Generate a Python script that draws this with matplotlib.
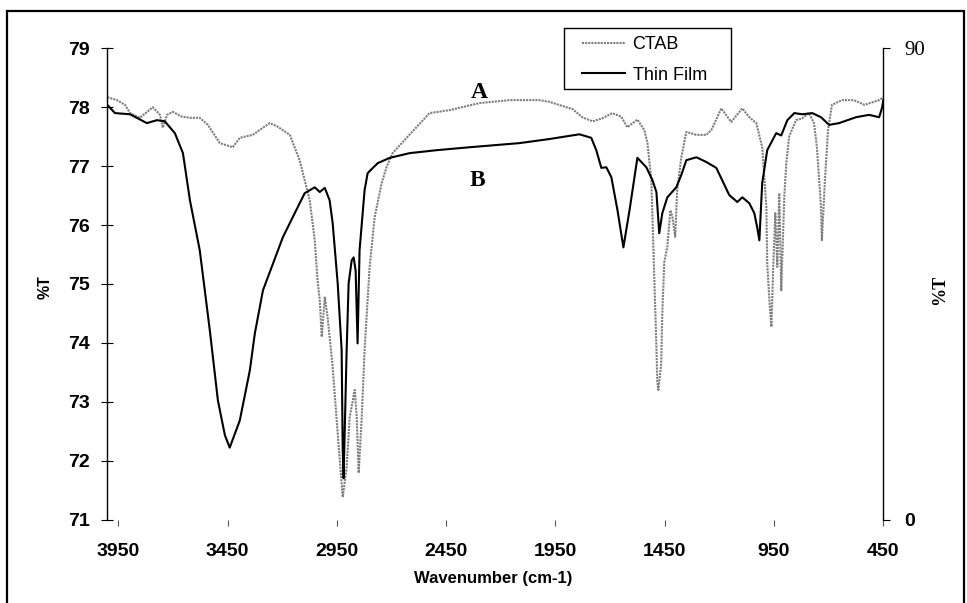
import matplotlib
matplotlib.use("Agg")
import matplotlib.pyplot as plt
from matplotlib.patches import Rectangle

# wavenumber (cm-1) / %T
ctab_wn = [4000, 3956, 3919, 3896, 3851, 3792, 3759, 3746, 3727, 3700, 3659, 3622, 3577, 3540,
           3485, 3426, 3394, 3335, 3257, 3225, 3165, 3120, 3097, 3074, 3051, 3038, 3028, 3019,
           3005, 2992, 2969, 2946, 2923, 2905, 2891, 2868, 2859, 2850, 2836, 2823, 2800, 2777,
           2745, 2722, 2695, 2526, 2434, 2297, 2160, 2023, 1977, 1900, 1872, 1827, 1781, 1736,
           1690, 1649, 1621, 1575, 1543, 1529, 1511, 1502, 1488, 1484, 1479, 1466, 1461, 1452,
           1438, 1424, 1415, 1402, 1393, 1374, 1351, 1305, 1260, 1237, 1191, 1146, 1095, 1063,
           1031, 1004, 985, 981, 972, 962, 953, 944, 935, 926, 917, 903, 894, 881, 849, 821,
           790, 767, 754, 735, 731, 717, 703, 685, 639, 584, 536, 469, 450]
ctab_t = [78.17, 78.12, 78.04, 77.90, 77.82, 78.00, 77.87, 77.65, 77.87, 77.92, 77.84, 77.82,
          77.82, 77.70, 77.39, 77.32, 77.48, 77.53, 77.73, 77.68, 77.53, 77.10, 76.76, 76.42,
          75.74, 75.06, 74.72, 74.10, 74.77, 74.43, 73.59, 72.46, 71.38, 71.89, 72.74, 73.20,
          72.74, 71.79, 72.74, 73.88, 75.28, 76.13, 76.71, 76.99, 77.22, 77.90, 77.95, 78.07,
          78.12, 78.12, 78.09, 78.00, 77.97, 77.83, 77.76, 77.81, 77.90, 77.84, 77.66, 77.79,
          77.61, 77.39, 76.76, 75.63, 73.93, 73.36, 73.20, 73.65, 74.50, 75.37, 75.63, 76.25,
          76.14, 75.80, 76.59, 77.15, 77.58, 77.53, 77.53, 77.61, 77.98, 77.75, 77.98, 77.83,
          77.73, 77.32, 76.31, 75.35, 74.78, 74.27, 75.35, 76.20, 75.29, 76.54, 74.89, 76.47,
          77.04, 77.50, 77.78, 77.81, 77.90, 77.73, 77.33, 76.31, 75.74, 76.76, 77.61, 78.04,
          78.12, 78.12, 78.04, 78.12, 78.17]

film_wn = [4000, 3965, 3896, 3819, 3773, 3737, 3691, 3654, 3622, 3577, 3531, 3494, 3462, 3440,
           3394, 3348, 3325, 3288, 3197, 3152, 3097, 3051, 3028, 3005, 2983, 2969, 2946, 2928,
           2923, 2919, 2905, 2896, 2882, 2873, 2864, 2855, 2846, 2823, 2809, 2763, 2708, 2617,
           2494, 2343, 2115, 1977, 1840, 1786, 1763, 1740, 1717, 1694, 1666, 1639, 1611, 1575,
           1534, 1506, 1488, 1475, 1461, 1438, 1397, 1374, 1351, 1305, 1260, 1214, 1187, 1155,
           1118, 1095, 1063, 1040, 1027, 1017, 1004, 981, 940, 917, 889, 857, 821, 775, 735,
           698, 652, 575, 515, 469, 455, 450]
film_t = [78.04, 77.90, 77.88, 77.73, 77.78, 77.76, 77.56, 77.22, 76.42, 75.57, 74.21, 73.02,
          72.43, 72.22, 72.68, 73.53, 74.16, 74.89, 75.79, 76.13, 76.54, 76.64, 76.56, 76.63,
          76.42, 76.03, 75.01, 73.88, 72.18, 71.70, 73.88, 75.01, 75.40, 75.45, 75.23, 73.99,
          75.57, 76.59, 76.88, 77.05, 77.14, 77.22, 77.27, 77.32, 77.39, 77.46, 77.54, 77.48,
          77.27, 76.97, 76.98, 76.81, 76.25, 75.62, 76.25, 77.14, 76.98, 76.76, 76.56, 75.86,
          76.20, 76.47, 76.64, 76.85, 77.10, 77.15, 77.07, 76.97, 76.76, 76.51, 76.39, 76.47,
          76.37, 76.20, 75.96, 75.74, 76.71, 77.27, 77.56, 77.52, 77.78, 77.90, 77.88, 77.90,
          77.83, 77.70, 77.73, 77.83, 77.87, 77.83, 78.00, 78.12]

x_ticks = [3950, 3450, 2950, 2450, 1950, 1450, 950, 450]
y_ticks = [71, 72, 73, 74, 75, 76, 77, 78, 79]
y2_ticks = [0, 90]

SANS = "Liberation Sans"
SERIF = "Liberation Serif"
W, H = 967, 603

fig = plt.figure(figsize=(W / 100, H / 100), dpi=100)
ax = fig.add_axes([107.3 / W, 1 - 519.5 / H, (883.3 - 107.3) / W, (519.5 - 48.3) / H])

ax.plot(ctab_wn, ctab_t, color="#7d7d7d", lw=1.5, ls=(0, (1, 0.5)), label="CTAB")
ax.plot(film_wn, film_t, color="black", lw=1.5, label="Thin Film")

ax.set_xlim(4000, 450)
ax.set_ylim(71, 79)
ax.set_xticks(x_ticks, [str(x) for x in x_ticks])
ax.set_yticks(y_ticks, [str(y) for y in y_ticks])
for side in ["top", "bottom", "right"]:
    ax.spines[side].set_visible(False)
ax.spines["left"].set_linewidth(1)
ax.tick_params(axis="x", direction="out", length=4, width=0.8, color="#555555", pad=13)
ax.tick_params(axis="y", direction="inout", length=9, width=0.8, pad=8)
for lab in ax.get_xticklabels() + ax.get_yticklabels():
    lab.set_fontfamily(SANS)
    lab.set_fontweight("bold")
    lab.set_fontsize(14)

ax2 = ax.twinx()
ax2.set_ylim(0, 90)
ax2.set_yticks(y2_ticks, [str(y) for y in y2_ticks])
for side in ["top", "bottom", "left"]:
    ax2.spines[side].set_visible(False)
ax2.spines["right"].set_linewidth(1)
ax2.tick_params(axis="y", direction="out", length=5, width=0.8, pad=10)
lab0, lab90 = ax2.get_yticklabels()
lab0.set_fontfamily(SANS)
lab0.set_fontweight("bold")
lab0.set_fontsize(14)
lab90.set_fontfamily(SERIF)
lab90.set_fontsize(15)

ax.text(2300, 78.25, "A", family=SERIF, weight="bold", fontsize=17, ha="center", va="center")
ax.text(2305, 76.75, "B", family=SERIF, weight="bold", fontsize=17, ha="center", va="center")

# legend entries without frame, box drawn separately (Excel-style padding)
leg = ax.legend(loc="upper left", bbox_to_anchor=(582 / W, 1 - 36 / H),
                bbox_transform=fig.transFigure, frameon=False,
                prop={"family": SANS, "size": 13}, handlelength=2.4, handletextpad=0.4,
                labelspacing=0.75, borderpad=0, borderaxespad=0)
fig.patches.append(Rectangle((564 / W, 1 - 89 / H), (731 - 564) / W, 61 / H,
                             transform=fig.transFigure, fill=False, edgecolor="black", lw=1))

fig.text(45 / W, 1 - 287 / H, "%T", rotation=90, family=SANS, weight="bold", fontsize=11.5,
         ha="center", va="center")
fig.text(940 / W, 1 - 290 / H, "%T", rotation=90, family=SERIF, weight="bold", fontsize=13,
         ha="center", va="center")
fig.text(493 / W, 1 - 579 / H, "Wavenumber (cm-1)", family=SANS, weight="bold", fontsize=12,
         ha="center", va="center")

fig.patches.append(Rectangle((7 / W, -0.05), (964 - 7) / W, 1.05 - 11.5 / H,
                             transform=fig.transFigure, fill=False, edgecolor="black", lw=1.6))

fig.savefig("out.png", dpi=100)
